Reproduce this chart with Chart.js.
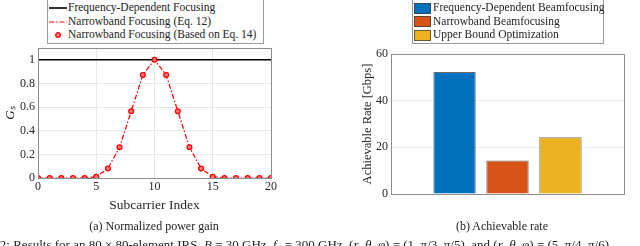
<!DOCTYPE html>
<html>
<head>
<meta charset="utf-8">
<script src="https://cdn.jsdelivr.net/npm/chart.js@4.4.0/dist/chart.umd.min.js"></script>
<style>
  body { margin: 0; background: #fff; width: 640px; height: 246px; overflow: hidden; position: relative; font-family: "Liberation Serif", serif; color: #222; }
  canvas { position: absolute; top: 0; }
  #gain { left: 0; }
  #rate { left: 320px; }
  .legend { position: absolute; background: #fff; border: 1px solid #9a9a9a; font-size: 11.5px; line-height: 13.5px; padding: 1px 2px 1px 1px; }
  .legend div { white-space: nowrap; height: 13.5px; }
  .swatch { display: inline-block; vertical-align: middle; margin-right: 1px; }
  .caption { position: absolute; font-size: 12px; white-space: nowrap; transform: translateX(-50%); }
  #figcap { position: absolute; left: -24px; top: 237px; font-size: 13px; line-height: 15px; white-space: nowrap; }
</style>
</head>
<body>
<canvas id="gain" width="320" height="246"></canvas>
<canvas id="rate" width="320" height="246"></canvas>

<div class="legend" id="legGain" style="left:47px; top:-1px; width:212px;"></div>
<div class="legend" id="legRate" style="left:412px; top:-1px; width:187px;"></div>

<div class="caption" style="left:154px; top:219px;">(a) Normalized power gain</div>
<div class="caption" style="left:502px; top:219px;">(b) Achievable rate</div>
<div id="figcap">Fig. 2: Results for an 80 × 80-element IRS, <i>B</i> = 30 GHz, <i>f</i><sub>c</sub> = 300 GHz, (<i>r</i>, <i>θ</i>, <i>φ</i>) = (1, π/3, π/5), and (<i>r</i>, <i>θ</i>, <i>φ</i>) = (5, π/4, π/6)</div>

<script>
// ---- data ----
var subcarriers = [0, 1, 2, 3, 4, 5, 6, 7, 8, 9, 10, 11, 12, 13, 14, 15, 16, 17, 18, 19, 20];
var freqDependentGain = [1, 1, 1, 1, 1, 1, 1, 1, 1, 1, 1, 1, 1, 1, 1, 1, 1, 1, 1, 1, 1];
var narrowbandEq12 = [0, 0, 0, 0, 0, 0.011, 0.08, 0.26, 0.565, 0.872, 1, 0.872, 0.565, 0.26, 0.08, 0.011, 0, 0, 0, 0, 0];
var narrowbandEq14 = [0, 0, 0, 0, 0, 0.011, 0.08, 0.26, 0.565, 0.872, 1, 0.872, 0.565, 0.26, 0.08, 0.011, 0, 0, 0, 0, 0];
var gainTicks = [0, 0.2, 0.4, 0.6, 0.8, 1];
var subcarrierTicks = [0, 5, 10, 15, 20];

var schemes = ["Frequency-Dependent Beamfocusing", "Narrowband Beamfocusing", "Upper Bound Optimization"];
var schemePositions = [1, 2, 3];
var achievableRate = [52.3, 14.4, 24.3];
var rateTicks = [0, 20, 40, 60];
var schemeColors = ["#0072BD", "#D95319", "#EDB120"];

var gainLabels = ["Frequency-Dependent Focusing", "Narrowband Focusing (Eq. 12)", "Narrowband Focusing (Based on Eq. 14)"];

Chart.defaults.font.family = '"Liberation Serif", serif';
Chart.defaults.color = "#262626";
Chart.defaults.animation = false;

function pts(xs, ys) {
  return xs.map(function (x, i) { return { x: x, y: ys[i] }; });
}
function plain(v) { return String(v); }

// full box around the plot area, like matlab "box on"
var boxPlugin = {
  id: "box",
  afterDraw: function (chart) {
    var a = chart.chartArea, ctx = chart.ctx;
    ctx.save();
    ctx.strokeStyle = "#8c8c8c";
    ctx.lineWidth = 1;
    ctx.strokeRect(Math.round(a.left) + 0.5, Math.round(a.top) + 0.5, Math.round(a.right - a.left), Math.round(a.bottom - a.top));
    ctx.restore();
  },
};

var gridColor = "#e8e8e8";

// ---- (a) normalized power gain ----
new Chart(document.getElementById("gain").getContext("2d"), {
  type: "scatter",
  data: {
    datasets: [
      {
        label: gainLabels[0],
        data: pts(subcarriers, freqDependentGain),
        showLine: true,
        borderColor: "#000",
        borderWidth: 1.6,
        pointRadius: 0,
        order: 3,
      },
      {
        label: gainLabels[1],
        data: pts(subcarriers, narrowbandEq12),
        showLine: true,
        borderColor: "#ff0000",
        borderWidth: 1.2,
        borderDash: [5, 2, 1.5, 2],
        pointRadius: 0,
        order: 2,
      },
      {
        label: gainLabels[2],
        data: pts(subcarriers, narrowbandEq14),
        showLine: false,
        borderColor: "#ff0000",
        backgroundColor: "rgba(255,120,120,0.9)",
        borderWidth: 1.3,
        pointRadius: 2.4,
        order: 1,
      },
    ],
  },
  options: {
    responsive: false,
    layout: { padding: { left: 0, right: 49, top: 48, bottom: 29 } },
    plugins: { legend: { display: false }, tooltip: { enabled: false } },
    scales: {
      x: {
        type: "linear",
        min: 0,
        max: 20,
        afterBuildTicks: function (s) { s.ticks = subcarrierTicks.map(function (v) { return { value: v }; }); },
        afterFit: function (s) { s.height = 39; },
        ticks: { font: { size: 12 }, padding: 2, callback: plain },
        grid: { color: gridColor, drawTicks: false },
        border: { display: false },
        title: { display: true, text: "Subcarrier Index", font: { size: 13.5 }, padding: { top: 0, bottom: 3 } },
      },
      y: {
        min: 0,
        max: 1.1,
        afterBuildTicks: function (s) { s.ticks = gainTicks.map(function (v) { return { value: v }; }); },
        afterFit: function (s) { s.width = 38; },
        ticks: { font: { size: 12 }, padding: 3, callback: plain },
        grid: { color: gridColor, drawTicks: false },
        border: { display: false },
        title: { display: true, text: "Gₛ", font: { size: 13, style: "italic" }, padding: { top: 3, bottom: 0 } },
      },
    },
  },
  plugins: [boxPlugin],
});

// ---- (b) achievable rate ----
new Chart(document.getElementById("rate").getContext("2d"), {
  type: "bar",
  data: {
    datasets: schemes.map(function (name, i) {
      return {
        label: name,
        data: [{ x: schemePositions[i], y: achievableRate[i] }],
        backgroundColor: schemeColors[i],
        borderColor: "rgba(60,60,60,0.75)",
        borderWidth: 1,
        grouped: false,
        categoryPercentage: 0.8,
        barPercentage: 1,
      };
    }),
  },
  options: {
    responsive: false,
    layout: { padding: { left: 37, right: 16, top: 54, bottom: 52 } },
    plugins: { legend: { display: false }, tooltip: { enabled: false } },
    scales: {
      x: {
        type: "linear",
        offset: false,
        min: -0.2,
        max: 4.2,
        afterBuildTicks: function (s) { s.ticks = [0, 1, 2, 3, 4].map(function (v) { return { value: v }; }); },
        afterFit: function (s) { s.height = 0; },
        ticks: { display: false },
        grid: { display: false, offset: false },
        border: { display: false },
      },
      y: {
        min: 0,
        max: 60,
        afterBuildTicks: function (s) { s.ticks = rateTicks.map(function (v) { return { value: v }; }); },
        afterFit: function (s) { s.width = 34; },
        ticks: { font: { size: 12 }, padding: 3, callback: plain },
        grid: { color: "#ededed", drawTicks: false },
        border: { display: false },
        title: { display: true, text: "Achievable Rate [Gbps]", font: { size: 12.5 }, padding: { top: 3, bottom: 0 } },
      },
    },
  },
  plugins: [boxPlugin],
});

// ---- legends ----
function lineSwatch(color, dash, marker) {
  var svg = '<svg class="swatch" width="18" height="8">';
  if (marker) {
    svg += '<circle cx="9" cy="4" r="2.3" fill="rgba(255,120,120,0.9)" stroke="#ff0000" stroke-width="1.3"/>';
  } else {
    svg += '<line x1="0" y1="4" x2="18" y2="4" stroke="' + color + '" stroke-width="' + (dash ? 1.2 : 1.6) + '"' +
      (dash ? ' stroke-dasharray="' + dash + '"' : "") + "/>";
  }
  return svg + "</svg>";
}
var lg = document.getElementById("legGain");
lg.innerHTML =
  "<div>" + lineSwatch("#000", null, false) + gainLabels[0] + "</div>" +
  "<div>" + lineSwatch("#ff0000", "5 2 1.5 2", false) + gainLabels[1] + "</div>" +
  "<div>" + lineSwatch("#ff0000", null, true) + gainLabels[2] + "</div>";

var lr = document.getElementById("legRate");
lr.innerHTML = schemes.map(function (name, i) {
  return '<div><span class="swatch" style="width:15px;height:9px;background:' + schemeColors[i] +
    ';border:1px solid rgba(60,60,60,0.75);margin-right:2px;"></span>' + name + "</div>";
}).join("");
</script>
</body>
</html>
